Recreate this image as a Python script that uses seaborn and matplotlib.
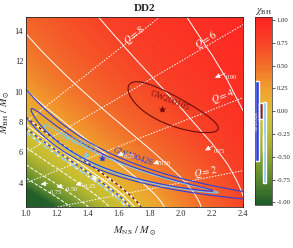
import numpy as np
import matplotlib
matplotlib.use("Agg")
import matplotlib.pyplot as plt
import matplotlib.ticker as ticker
import seaborn as sns
import pandas as pd
from matplotlib.colors import LinearSegmentedColormap

# HS(DD2) mass-radius relation (Msun, km)
dd2_mass = [1.0, 1.2, 1.4, 1.6, 1.8, 2.0, 2.2, 2.3, 2.4, 2.42]
dd2_radius = [13.18, 13.22, 13.21, 13.17, 13.08, 12.93, 12.66, 12.45, 12.10, 11.90]

# Foucart+18 remnant mass fit coefficients
alpha, beta, gamma = 0.406, 0.139, 0.255

chi_levels = [-0.75, -0.5, -0.25, 0.0, 0.25, 0.5, 0.75, 0.9]
q_values = [2, 4, 6, 8]

events = ["GW200105", "GW200115", "GW190426"]
event_colors = ["#6e0b0b", "#7fc9ee", "#2e3fe0"]
event_m_ns = [1.88, 1.39, 1.49]
event_m_bh = [8.88, 5.85, 5.62]
event_chi_lo = [-0.09, -0.79, -0.55]
event_chi_hi = [0.09, 0.10, 0.33]
event_chi_edge = [0.06, -0.08, -0.04]
# posterior contours, chirp mass and ln(q) centre / half width
event_mc = [3.40, 2.37, 2.39]
event_mc_w = [0.19, 0.08, 0.085]
event_lnq = [-1.52, -1.17, -1.30]
event_lnq_w = [0.32, 0.77, 0.85]
event_k = [[1.0], [1.0], [1.0, 1.6]]

sns.set_theme(style="ticks")
plt.rcParams["font.family"] = ["Liberation Serif", "DejaVu Serif"]
plt.rcParams["mathtext.fontset"] = "stix"

# field: minimum BH spin for tidal disruption
ns = np.linspace(1.0, 2.4, 400)
bh = np.linspace(2.4, 14.9, 400)
NS, BH = np.meshgrid(ns, bh)
C = NS * 1.4766 / np.interp(NS, dd2_mass, dd2_radius)
Q = BH / NS
eta = Q / (1 + Q) ** 2
r_hat = eta * (alpha * (1 - 2 * C) / eta ** (1 / 3) + gamma) / (beta * C)
chi_grid = np.linspace(-1, 1, 4001)
z1 = 1 + (1 - chi_grid ** 2) ** (1 / 3) * ((1 + chi_grid) ** (1 / 3) + (1 - chi_grid) ** (1 / 3))
z2 = np.sqrt(3 * chi_grid ** 2 + z1 ** 2)
r_isco = 3 + z2 - np.sign(chi_grid) * np.sqrt((3 - z1) * (3 + z1 + 2 * z2))
chi_bh = np.interp(r_hat, r_isco[::-1], chi_grid[::-1])

cmap = LinearSegmentedColormap.from_list("chi", [
    (0.00, "#1d5a2a"), (0.14, "#5a8a2e"), (0.27, "#93a72f"), (0.39, "#c2bd32"),
    (0.50, "#e0bf30"), (0.62, "#f0a02e"), (0.74, "#f2702a"), (0.87, "#f84226"),
    (1.00, "#ff2222")])

fig = plt.figure(figsize=(2.93, 2.48), dpi=100)
ax = fig.add_axes([0.0887, 0.165, 0.7406, 0.766])
mesh = ax.pcolormesh(NS, BH, chi_bh, cmap=cmap, vmin=-1.03, vmax=1.03,
                     shading="gouraud", rasterized=True)
ax.contour(NS, BH, chi_bh, levels=chi_levels, colors="white", linewidths=0.7)

# constant mass ratio lines
for q in q_values:
    df = pd.DataFrame({"m_ns": ns, "m_bh": q * ns})
    sns.lineplot(data=df, x="m_ns", y="m_bh", ax=ax, color="white",
                 linestyle=(0, (1.5, 1.5)), linewidth=0.7)

# spin edge of each event
styles = [(0, (2, 2)), (0, (4, 1.5, 1, 1.5)), (0, (2, 2))]
for col, edge, st in zip(event_colors, event_chi_edge, styles):
    ax.contour(NS, BH, chi_bh, levels=[edge], colors="white", linewidths=1.0)
    ax.contour(NS, BH, chi_bh, levels=[edge], colors=col, linewidths=1.0,
               linestyles=[st])

# posterior contours
MC = (BH * NS) ** 0.6 / (BH + NS) ** 0.2
LNQ = np.log(NS / BH)
for i, name in enumerate(events):
    dens = np.exp(-0.5 * ((MC - event_mc[i]) / event_mc_w[i]) ** 2
                  - 0.5 * ((LNQ - event_lnq[i]) / event_lnq_w[i]) ** 2)
    lv = sorted(np.exp(-0.5 * np.array(event_k[i]) ** 2))
    ax.contour(NS, BH, dens, levels=lv, colors=event_colors[i], linewidths=0.8)
    ax.plot(event_m_ns[i], event_m_bh[i], marker="*", ms=6, color=event_colors[i],
            mec="none", ls="none")

ax.text(1.93, 9.39, "GW200105", color="#7a1010", rotation=-22, fontsize=6.5,
        ha="center", va="center")
ax.text(1.33, 6.63, "GW200115", color=event_colors[1], rotation=-22, fontsize=6.5,
        ha="center", va="center")
ax.text(1.69, 5.73, "GW190426", color=event_colors[2], rotation=-19, fontsize=6.5,
        ha="center", va="center")

# Q labels
for q, xq, dy, rot in zip(q_values, [2.16, 2.27, 2.16, 1.70], [0.35, 0.6, 0.45, 0.1],
                          [11, 21, 30, 38]):
    ax.text(xq, q * xq + dy, f"$Q = {q}$", color="white", fontsize=7.5, rotation=rot,
            ha="center", va="center")

# spin labels with arrows
spin_labels = ["0.90", "0.75", "0.50", "0.25", "0.00", "-0.25", "-0.50", "-0.75"]
txt_pos = [(2.327, 10.93), (2.245, 6.04), (1.90, 5.24), (1.665, 5.74),
           (1.52, 4.13), (1.41, 3.73), (1.295, 3.58), (1.19, 3.35)]
tails = [(2.284, 11.20), (2.205, 6.41), (1.865, 5.40), (1.63, 5.93),
         (1.465, 4.35), (1.36, 3.95), (1.24, 3.80), (1.14, 3.95)]
heads = [(2.219, 10.91), (2.155, 6.13), (1.82, 5.25), (1.59, 5.81),
         (1.42, 4.25), (1.32, 3.87), (1.197, 3.72), (1.095, 3.90)]
for lab, tp, tl, hd in zip(spin_labels, txt_pos, tails, heads):
    ax.text(tp[0], tp[1], lab, color="white", fontsize=4.6, ha="center", va="center")
    ax.annotate("", xy=hd, xytext=tl,
                arrowprops=dict(arrowstyle="-|>,head_length=0.6,head_width=0.3",
                                mutation_scale=5, color="white", lw=0.5,
                                shrinkA=0, shrinkB=0))

ax.set_xlim(1.0, 2.4)
ax.set_ylim(2.4, 14.9)
ax.xaxis.set_major_locator(ticker.MultipleLocator(0.2))
ax.xaxis.set_minor_locator(ticker.MultipleLocator(0.1))
ax.yaxis.set_major_locator(ticker.MultipleLocator(2))
ax.yaxis.set_minor_locator(ticker.MultipleLocator(1))
ax.tick_params(which="both", direction="in", top=True, right=True, labelsize=6,
               color="#333333", pad=2)
ax.tick_params(which="major", length=3, width=0.6)
ax.tick_params(which="minor", length=1.6, width=0.5)
ax.set_xlabel(r"$M_{\rm NS}\ /\ M_\odot$", fontsize=7.5, labelpad=5)
ax.set_ylabel(r"$M_{\rm BH}\ /\ M_\odot$", fontsize=7.5, labelpad=2)
for s in ax.spines.values():
    s.set_linewidth(0.6)

# colour bar with the event spin ranges
cax = fig.add_axes([0.870, 0.173, 0.058, 0.757])
cb = fig.colorbar(mesh, cax=cax, ticks=[-1, -0.75, -0.5, -0.25, 0, 0.25, 0.5, 0.75, 1])
cb.ax.yaxis.set_major_formatter(ticker.FormatStrFormatter("%.2f"))
cb.ax.tick_params(labelsize=4.8, length=2, width=0.5, pad=1.5)
cb.outline.set_linewidth(0.5)
cax.set_title(r"$\chi_{\rm BH}$", fontsize=7, pad=3)
bar_x = [(0.25, 0.45), (0.45, 0.68), (0.0, 0.24)]
bar_colors = ["#8a1c1c", event_colors[1], event_colors[2]]
for i, name in enumerate(events):
    x0, x1 = bar_x[i]
    cax.bar((x0 + x1) / 2, event_chi_hi[i] - event_chi_lo[i], bottom=event_chi_lo[i],
            width=x1 - x0, color=bar_colors[i], align="center")
    cax.text((x0 + x1) / 2, (event_chi_hi[i] + event_chi_lo[i]) / 2, name, rotation=90,
             fontsize=3.2, color="white", ha="center", va="center")
cax.set_xlim(0, 1)

fig.text(0.495, 0.965, "DD2", fontsize=8, fontweight="bold", ha="center", va="center")
fig.savefig("out.png", dpi=100)
